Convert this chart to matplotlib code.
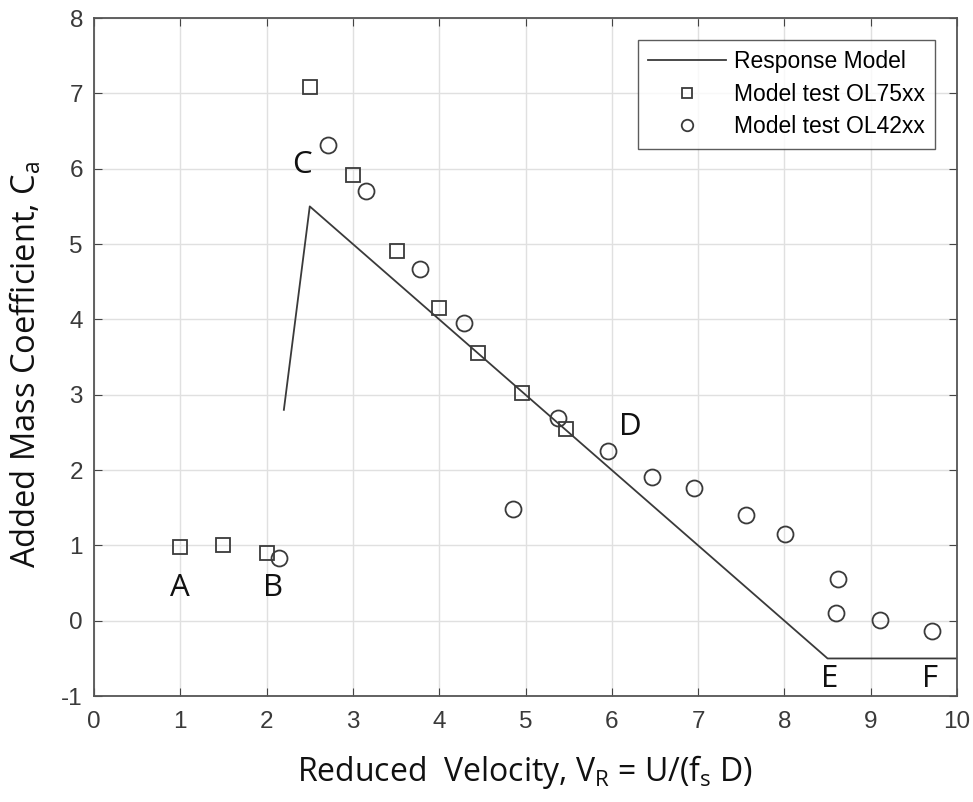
import matplotlib.pyplot as plt
import numpy as np

plt.rcParams['font.family'] = ['Liberation Sans', 'DejaVu Sans']
plt.rcParams['mathtext.default'] = 'regular'
plt.rcParams['axes.unicode_minus'] = False

# response model (piecewise line)
model_x = [2.2, 2.5, 8.5, 10.0]
model_y = [2.8, 5.5, -0.5, -0.5]

# model test OL75xx (squares)
ol75_x = [1.0, 1.5, 2.0, 2.5, 3.0, 3.51, 4.0, 4.45, 4.96, 5.47]
ol75_y = [0.98, 1.0, 0.9, 7.08, 5.92, 4.91, 4.15, 3.55, 3.02, 2.55]

# model test OL42xx (circles)
ol42_x = [2.14, 2.71, 3.15, 3.78, 4.29, 4.86, 5.38, 5.96, 6.46, 6.95, 7.55, 8.01, 8.62, 8.60, 9.11, 9.71]
ol42_y = [0.84, 6.32, 5.71, 4.67, 3.95, 1.48, 2.69, 2.26, 1.91, 1.76, 1.40, 1.15, 0.55, 0.10, 0.01, -0.13]

# point labels
pt_names = ['A', 'B', 'C', 'D', 'E', 'F']
pt_x = [1.0, 2.07, 2.41, 6.21, 8.53, 9.69]
pt_y = [0.44, 0.44, 6.05, 2.57, -0.77, -0.77]

label_font = ['Open Sans', 'DejaVu Sans']

fig = plt.figure(figsize=(9.73, 8.02), dpi=100)
ax = fig.add_axes([0.0966, 0.132, 0.887, 0.8455])

ax.plot(model_x, model_y, color='#3a3a3a', lw=1.3, label='Response Model')
ax.plot(ol75_x, ol75_y, 's', ms=10, mfc='none', mec='#3a3a3a', mew=1.3, label='Model test OL75xx')
ax.plot(ol42_x, ol42_y, 'o', ms=11.5, mfc='none', mec='#3a3a3a', mew=1.3, label='Model test OL42xx')

for n, x, y in zip(pt_names, pt_x, pt_y):
    ax.text(x, y, n, fontsize=22.5, family=label_font, ha='center', va='center', color='#111111')

ax.set_xlim(0, 10)
ax.set_ylim(-1, 8)
ax.set_xticks(np.arange(0, 11, 1))
ax.set_yticks(np.arange(-1, 9, 1))
ax.grid(True, color='#e0e0e0', lw=1)
ax.set_axisbelow(True)
ax.tick_params(direction='in', top=True, right=True, labelsize=17.5, colors='#444444',
               labelcolor='#3a3a3a', length=6)
ax.tick_params(axis='x', pad=11)
ax.tick_params(axis='y', pad=8)
for s in ax.spines.values():
    s.set_color('#555555')
    s.set_linewidth(1.3)

ax.set_xlabel('Reduced  Velocity, V$_R$ = U/(f$_s$ D)', fontsize=23,
              family=label_font, labelpad=14, color='#111111')
ax.set_ylabel('Added Mass Coefficient, C$_a$', fontsize=23.5,
              family=label_font, color='#111111')
ax.yaxis.set_label_coords(-0.058, 0.49)

leg = ax.legend(loc='upper right', fontsize=16.5, fancybox=False, edgecolor='#333333',
                handlelength=3.4, handletextpad=0.35, borderaxespad=0.95, labelspacing=0.42,
                markerscale=0.72, borderpad=0.45)
leg.get_frame().set_linewidth(1.0)

fig.savefig('out.png', dpi=100)
